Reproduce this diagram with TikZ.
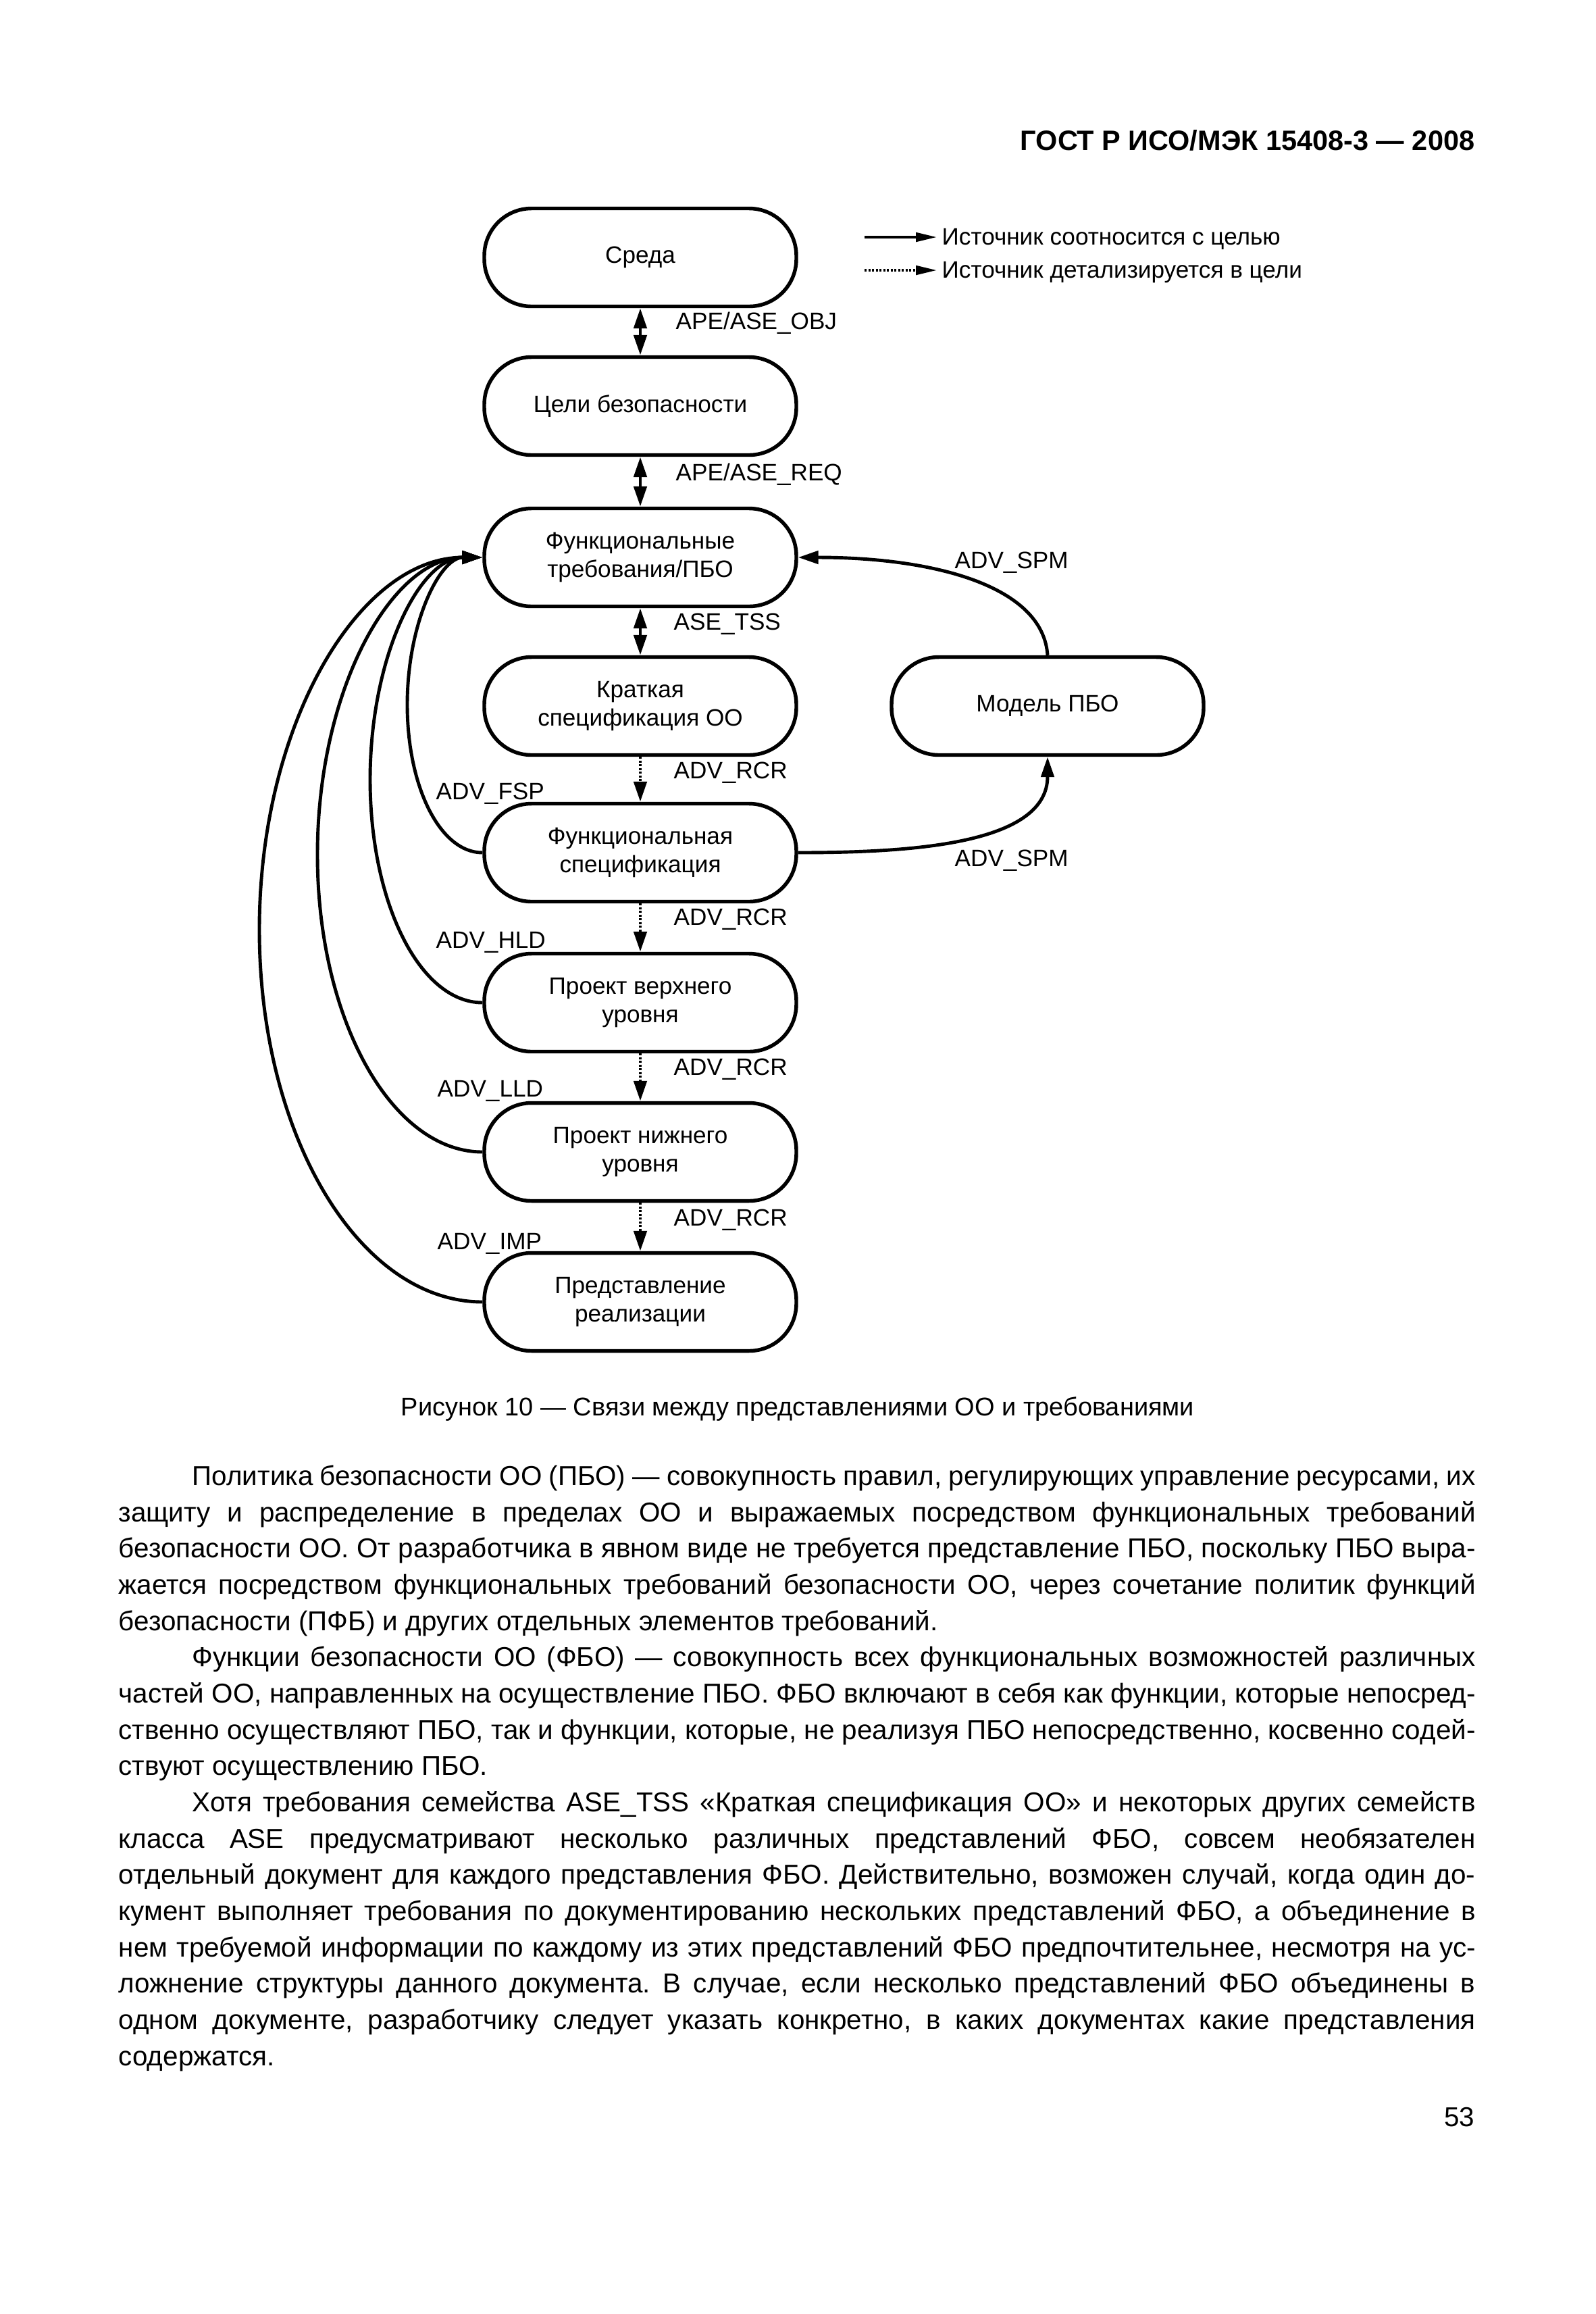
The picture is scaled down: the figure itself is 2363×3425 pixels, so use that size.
\documentclass[tikz,border=0pt]{standalone}
\usepackage{fontspec}
\setmainfont{Liberation Sans}
\usetikzlibrary{arrows.meta}
\frenchspacing
\begin{document}
\begin{tikzpicture}[x=0.1mm,y=-0.1mm,
  box/.style={draw, line width=1.55pt, rounded corners=7mm, minimum width=46.2mm, minimum height=14.5mm, align=center, inner sep=0pt, font=\fontsize{10}{11.8}\selectfont},
  lbl/.style={anchor=base west, inner sep=0pt, font=\fontsize{10}{12}\selectfont},
  con/.style={line width=1.4pt, >={Triangle[length=3mm,width=1.9mm]}},
  dotcon/.style={con, dash pattern=on 0.3mm off 0.25mm},
  legtip/.style={-{Triangle[length=3.2mm,width=1.3mm]}},
  body/.style={anchor=base west, inner sep=0pt, font=\fontsize{11.5}{13.5}\selectfont},
]
\useasboundingbox (0,0) rectangle (2363,3425);
\fill[white] (0,0) rectangle (2363,3425);

% header
\node[anchor=base east, inner sep=0pt, font=\bfseries\fontsize{11.8}{14}\selectfont] (hdr) at (2184,222) {ГОСТ Р ИСО/МЭК 15408-3 — 2008};

% boxes
\node[box] (env) at (948,381) {Среда};
\node[box] (obj) at (948,601) {Цели безопасности};
\node[box] (req) at (948,825) {Функциональные\\требования/ПБО};
\node[box] (tss) at (948,1045) {Краткая\\спецификация ОО};
\node[box] (model) at (1551,1045) {Модель ПБО};
\node[box] (fsp) at (948,1262) {Функциональная\\спецификация};
\node[box] (hld) at (948,1484) {Проект верхнего\\уровня};
\node[box] (lld) at (948,1705) {Проект нижнего\\уровня};
\node[box] (imp) at (948,1927) {Представление\\реализации};

% vertical connectors
\draw[con,<->] (env) -- (obj);
\draw[con,<->] (obj) -- (req);
\draw[con,<->] (req) -- (tss);
\draw[dotcon,->] (tss) -- (fsp);
\draw[dotcon,->] (fsp) -- (hld);
\draw[dotcon,->] (hld) -- (lld);
\draw[dotcon,->] (lld) -- (imp);

\node[lbl] (lobj) at (1000,487) {APE/ASE\_OBJ};
\node[lbl] (lreq) at (1000,711) {APE/ASE\_REQ};
\node[lbl] (ltss) at (997,932) {ASE\_TSS};
\node[lbl] (lr1) at (997,1152) {ADV\_RCR};
\node[lbl] (lr2) at (997,1369) {ADV\_RCR};
\node[lbl] (lr3) at (997,1591) {ADV\_RCR};
\node[lbl] (lr4) at (997,1814) {ADV\_RCR};

% left curves
\coordinate (fspL) at (603,1043);
\coordinate (hldL) at (548,1154);
\coordinate (lldL) at (470,1265);
\coordinate (impL) at (384,1376);
\draw[con,->] (fsp.west) .. controls +(-63,0) and +(0,121) .. (fspL) .. controls +(0,-121) and +(-63,0) .. (req.west);
\draw[con,->] (hld.west) .. controls +(-93,0) and +(0,182) .. (hldL) .. controls +(0,-182) and +(-93,0) .. (req.west);
\draw[con,->] (lld.west) .. controls +(-135,0) and +(0,243) .. (lldL) .. controls +(0,-243) and +(-135,0) .. (req.west);
\draw[con,->] (imp.west) .. controls +(-183,0) and +(0,304) .. (impL) .. controls +(0,-304) and +(-183,0) .. (req.west);

\node[lbl] (lfsp) at (645,1183) {ADV\_FSP};
\node[lbl] (lhld) at (645,1403) {ADV\_HLD};
\node[lbl] (llld) at (647,1623) {ADV\_LLD};
\node[lbl] (limp) at (647,1849) {ADV\_IMP};

% right curves
\draw[con,->] (model.north) .. controls +(-7,-103) and +(200,0) .. (req.east);
\draw[con,->] (fsp.east) .. controls +(170,0) and +(0,129) .. (model.south);
\node[lbl] (lspm1) at (1413,841) {ADV\_SPM};
\node[lbl] (lspm2) at (1413,1282) {ADV\_SPM};

% legend
\coordinate (la1) at (1280,351);
\coordinate (lb1) at (1388,351);
\coordinate (la2) at (1280,400);
\coordinate (lb2) at (1388,400);
\draw[line width=1.4pt, legtip] (la1) -- (lb1);
\draw[line width=1.4pt, dash pattern=on 0.3mm off 0.25mm, legtip] (la2) -- (lb2);
\node[lbl] (leg1) at (1394,362) {Источник соотносится с целью};
\node[lbl] (leg2) at (1394,411) {Источник детализируется в цели};

% caption
\node[anchor=base, inner sep=0pt, font=\fontsize{10.8}{13}\selectfont] (cap) at (1181,2095) {Рисунок 10 — Связи между представлениями ОО и требованиями};

% body text
\node[body] (t1) at (284,2198) {\makebox[190mm][s]{Политика безопасности ОО (ПБО) — совокупность правил, регулирующих управление ресурсами, их}};
\node[body] (t2) at (175,2252) {\makebox[200.9mm][s]{защиту и распределение в пределах ОО и выражаемых посредством функциональных требований}};
\node[body] (t3) at (175,2305) {\makebox[200.9mm][s]{безопасности ОО. От разработчика в явном виде не требуется представление ПБО, поскольку ПБО выра-}};
\node[body] (t4) at (175,2359) {\makebox[200.9mm][s]{жается посредством функциональных требований безопасности ОО, через сочетание политик функций}};
\node[body] (t5) at (175,2413) {безопасности (ПФБ) и других отдельных элементов требований.};
\node[body] (t6) at (284,2466) {\makebox[190mm][s]{Функции безопасности ОО (ФБО) — совокупность всех функциональных возможностей различных}};
\node[body] (t7) at (175,2520) {\makebox[200.9mm][s]{частей ОО, направленных на осуществление ПБО. ФБО включают в себя как функции, которые непосред-}};
\node[body] (t8) at (175,2574) {\makebox[200.9mm][s]{ственно осуществляют ПБО, так и функции, которые, не реализуя ПБО непосредственно, косвенно содей-}};
\node[body] (t9) at (175,2627) {ствуют осуществлению ПБО.};
\node[body] (t10) at (284,2681) {\makebox[190mm][s]{Хотя требования семейства ASE\_TSS «Краткая спецификация ОО» и некоторых других семейств}};
\node[body] (t11) at (175,2735) {\makebox[200.9mm][s]{класса ASE предусматривают несколько различных представлений ФБО, совсем необязателен}};
\node[body] (t12) at (175,2788) {\makebox[200.9mm][s]{отдельный документ для каждого представления ФБО. Действительно, возможен случай, когда один до-}};
\node[body] (t13) at (175,2842) {\makebox[200.9mm][s]{кумент выполняет требования по документированию нескольких представлений ФБО, а объединение в}};
\node[body] (t14) at (175,2896) {\makebox[200.9mm][s]{нем требуемой информации по каждому из этих представлений ФБО предпочтительнее, несмотря на ус-}};
\node[body] (t15) at (175,2949) {\makebox[200.9mm][s]{ложнение структуры данного документа. В случае, если несколько представлений ФБО объединены в}};
\node[body] (t16) at (175,3003) {\makebox[200.9mm][s]{одном документе, разработчику следует указать конкретно, в каких документах какие представления}};
\node[body] (t17) at (175,3057) {содержатся.};

\node[anchor=base east, inner sep=0pt, font=\fontsize{11.5}{13.5}\selectfont] (pg) at (2184,3147) {53};
\end{tikzpicture}
\end{document}
